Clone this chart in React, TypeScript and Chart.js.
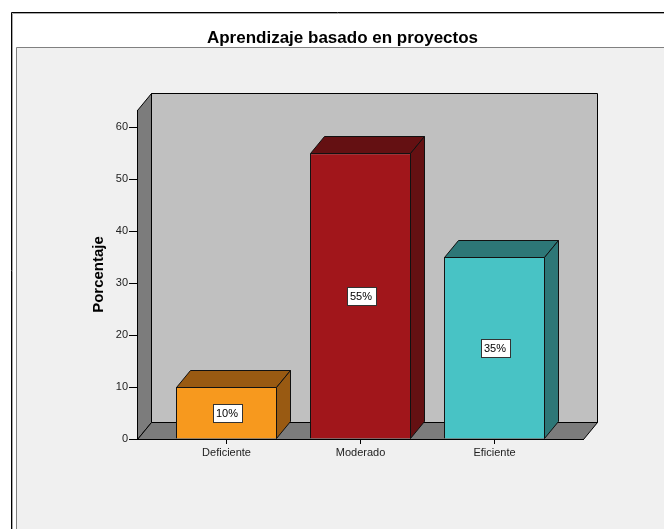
import React, { useEffect, useRef } from "react";
import { Chart, registerables } from "chart.js";

Chart.register(...registerables);

const chartTitle = "Aprendizaje basado en proyectos";
const yAxisTitle = "Porcentaje";
const categories = ["Deficiente", "Moderado", "Eficiente"];
const percentages = [10, 55, 35];
const yTicks = [0, 10, 20, 30, 40, 50, 60];
const frontColors = ["#F7991E", "#A1161B", "#48C3C5"];
const shadeColors = ["#995A12", "#641012", "#2D7777"];

const FONT = "'Liberation Sans', Arial, sans-serif";
const DX = 14;
const DY = -17;

const framePlugin = {
  id: "spssFrame",
  beforeDraw(chart: any) {
    const { ctx, width, height, chartArea } = chart;
    const { left: L, right: R, top: T, bottom: B } = chartArea;
    ctx.save();
    ctx.fillStyle = "#ffffff";
    ctx.fillRect(0, 0, width, height);
    ctx.lineWidth = 1;
    ctx.strokeStyle = "#000";
    ctx.beginPath();
    ctx.moveTo(11.5, height);
    ctx.lineTo(11.5, 12.5);
    ctx.lineTo(width, 12.5);
    ctx.stroke();
    ctx.strokeStyle = "#a8a8a8";
    ctx.beginPath();
    ctx.moveTo(12.5, height);
    ctx.lineTo(12.5, 13.5);
    ctx.lineTo(width, 13.5);
    ctx.stroke();
    ctx.fillStyle = "#F0F0F0";
    ctx.fillRect(16, 47, width - 16, height - 47);
    ctx.strokeStyle = "#808080";
    ctx.beginPath();
    ctx.moveTo(16.5, height);
    ctx.lineTo(16.5, 47.5);
    ctx.lineTo(width, 47.5);
    ctx.stroke();
    ctx.fillStyle = "#000";
    ctx.font = `bold 17px ${FONT}`;
    ctx.textAlign = "center";
    ctx.textBaseline = "alphabetic";
    ctx.fillText(chartTitle, 342.5, 43);
    ctx.strokeStyle = "#000";
    ctx.lineJoin = "miter";
    const poly = (pts: number[][], fill: string) => {
      ctx.beginPath();
      ctx.moveTo(pts[0][0], pts[0][1]);
      for (let i = 1; i < pts.length; i++) ctx.lineTo(pts[i][0], pts[i][1]);
      ctx.closePath();
      ctx.fillStyle = fill;
      ctx.fill();
      ctx.stroke();
    };
    const l = L + 0.5, r = R + 0.5, t = T + 0.5, b = B + 0.5;
    poly([[l + DX, t + DY], [r + DX, t + DY], [r + DX, b + DY], [l + DX, b + DY]], "#C0C0C0");
    poly([[l, b], [l, t], [l + DX, t + DY], [l + DX, b + DY]], "#7C7C7C");
    poly([[l, b], [l + DX, b + DY], [r + DX, b + DY], [r, b]], "#7C7C7C");
    ctx.restore();
  },
  afterDatasetsDraw(chart: any) {
    const { ctx } = chart;
    const meta = chart.getDatasetMeta(0);
    const yScale = chart.scales.y;
    ctx.save();
    ctx.lineWidth = 1;
    ctx.strokeStyle = "#111";
    meta.data.forEach((el: any, i: number) => {
      const w = el.width;
      const left = Math.round(el.x - w / 2) + 0.5;
      const right = Math.round(el.x + w / 2) - 0.5;
      const top = Math.round(el.y) + 0.5;
      const bottom = Math.round(el.base) - 0.5;
      ctx.fillStyle = shadeColors[i];
      ctx.beginPath();
      ctx.moveTo(left, top);
      ctx.lineTo(left + DX, top + DY);
      ctx.lineTo(right + DX, top + DY);
      ctx.lineTo(right, top);
      ctx.closePath();
      ctx.fill();
      ctx.stroke();
      ctx.beginPath();
      ctx.moveTo(right, top);
      ctx.lineTo(right + DX, top + DY);
      ctx.lineTo(right + DX, bottom + DY);
      ctx.lineTo(right, bottom);
      ctx.closePath();
      ctx.fill();
      ctx.stroke();
    });
    ctx.font = `11px ${FONT}`;
    ctx.textAlign = "center";
    ctx.textBaseline = "middle";
    meta.data.forEach((el: any, i: number) => {
      const v = percentages[i];
      const text = `${v}%`;
      const cx = Math.round(el.x);
      const cy = Math.round(yScale.getPixelForValue(v / 2));
      const tw = Math.ceil(ctx.measureText(text).width) + 6;
      const th = 18;
      const bx = Math.round(cx - tw / 2) + 0.5;
      const by = Math.round(cy - th / 2) + 0.5;
      ctx.fillStyle = "#fff";
      ctx.fillRect(bx, by, tw, th);
      ctx.strokeStyle = "#333";
      ctx.strokeRect(bx, by, tw, th);
      ctx.fillStyle = "#000";
      ctx.fillText(text, cx, cy + 1);
    });
    ctx.restore();
  },
};

export default function App() {
  const ref = useRef<HTMLCanvasElement | null>(null);
  useEffect(() => {
    if (!ref.current) return;
    const chart = new Chart(ref.current, {
      type: "bar",
      data: {
        datasets: [
          {
            data: categories.map((_, i) => ({ x: i, y: percentages[i] })),
            backgroundColor: frontColors,
            borderColor: "#111",
            borderWidth: 1,
            barPercentage: 0.754,
            categoryPercentage: 1,
          },
        ],
      },
      options: {
        animation: false,
        responsive: false,
        maintainAspectRatio: false,
        layout: { padding: { left: 90, right: 81, top: 110, bottom: 0 } },
        plugins: {
          legend: { display: false },
          tooltip: { enabled: false },
          title: { display: false },
        },
        scales: {
          x: {
            type: "linear",
            offset: false,
            min: -0.668,
            max: 2.66,
            afterBuildTicks: (s: any) => {
              s.ticks = categories.map((_, i) => ({ value: i }));
            },
            afterFit: (s: any) => {
              s.height = 90;
            },
            grid: {
              offset: false,
              drawOnChartArea: false,
              drawTicks: true,
              tickLength: 5,
              color: "#000",
            },
            border: { display: true, color: "#000" },
            ticks: {
              autoSkip: false,
              maxRotation: 0,
              padding: 2,
              color: "#222",
              font: { family: FONT, size: 11 },
              callback: (v: any) => categories[v as number] ?? "",
            },
          },
          y: {
            type: "linear",
            min: 0,
            max: 63.3,
            afterBuildTicks: (s: any) => {
              s.ticks = yTicks.map((v) => ({ value: v }));
            },
            afterFit: (s: any) => {
              s.width = 47;
            },
            grid: {
              drawOnChartArea: false,
              drawTicks: true,
              tickLength: 8,
              color: "#000",
            },
            border: { display: true, color: "#000" },
            ticks: {
              padding: 1,
              color: "#222",
              font: { family: FONT, size: 11 },
            },
            title: {
              display: true,
              text: yAxisTitle,
              color: "#000",
              font: { family: FONT, size: 15, weight: "bold" },
              padding: { top: 0, bottom: 0 },
            },
          },
        },
      },
      plugins: [framePlugin],
    });
    return () => chart.destroy();
  }, []);
  return (
    <div style={{ position: "absolute", left: 0, top: 0, width: 664, height: 529 }}>
      <canvas ref={ref} width={664} height={529} style={{ display: "block" }} />
    </div>
  );
}
